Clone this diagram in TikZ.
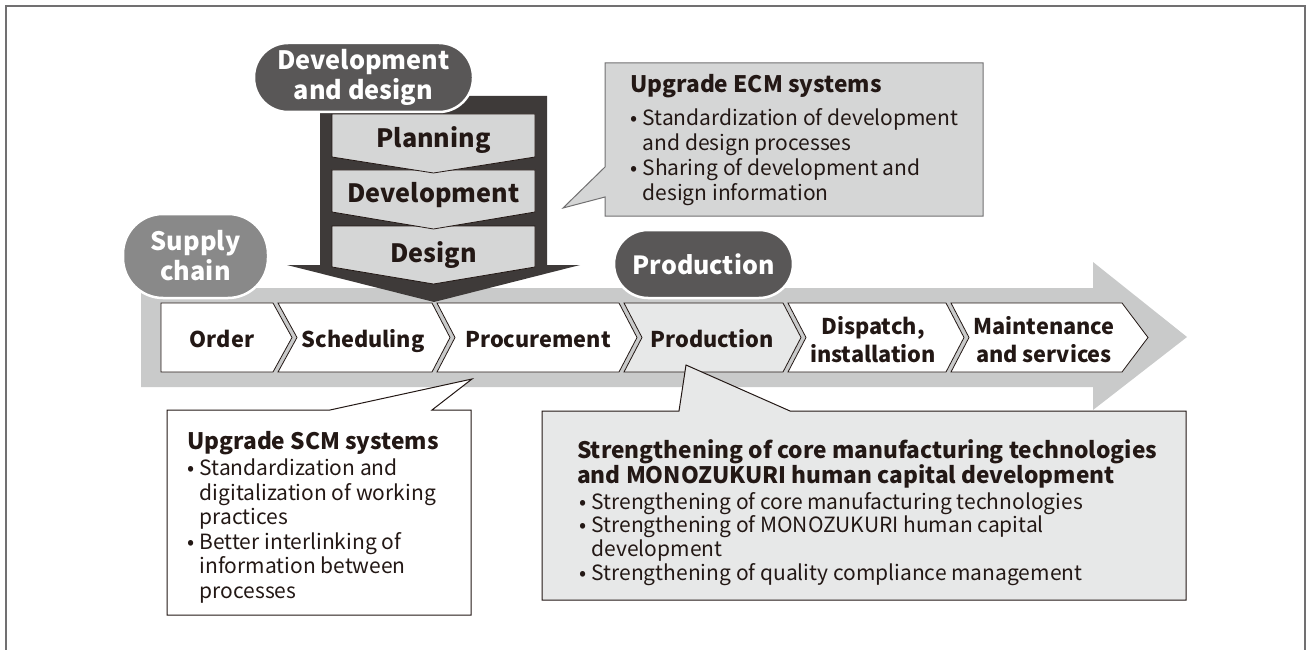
\documentclass[tikz,border=0pt]{standalone}
\usepackage{fontspec}
\setmainfont{Noto Sans CJK JP}
\definecolor{inkblack}{HTML}{231815}
\definecolor{framegray}{HTML}{717071}
\definecolor{pilldark}{HTML}{595757}
\definecolor{pillmid}{HTML}{898989}
\definecolor{arrowdark}{HTML}{3E3A39}
\definecolor{flowgray}{HTML}{C9CACA}
\definecolor{boxgray}{HTML}{D5D6D6}
\definecolor{boxlight}{HTML}{E7E8E8}
\newcommand{\itm}{\makebox[12.5pt][l]{•}}
\newcommand{\contline}{\hspace*{12.5pt}}

\begin{document}
\begin{tikzpicture}[x=1pt, y=-1pt,
  pill/.style={draw=white, line width=2.5pt, text=white, align=center, inner sep=0pt,
    font=\bfseries\fontsize{25.3}{30}\selectfont},
  stage/.style={draw=inkblack, line width=0.8pt},
  stagetext/.style={text=inkblack, align=center, inner sep=0pt,
    font=\bfseries\fontsize{21.7}{28}\selectfont},
  coltext/.style={text=inkblack, inner sep=0pt, anchor=base,
    font=\bfseries\fontsize{25.2}{28}\selectfont},
  note/.style={draw=inkblack, line width=1pt},
  notehead/.style={text=inkblack, anchor=north west, inner sep=0pt, align=left,
    font=\bfseries\fontsize{22.7}{25}\selectfont},
  notebody/.style={text=inkblack, anchor=north west, inner sep=0pt, align=left,
    font=\fontsize{21}{24.5}\selectfont}]

\useasboundingbox (0,0) rectangle (1307,650);
\draw[framegray, line width=1.2pt] (6,660) -- (6,6) -- (1305,6) -- (1305,660);

% supply chain flow
\fill[flowgray] (141,288) -- (1093,288) -- (1093,262) -- (1187,337) -- (1093,410) -- (1093,387) -- (141,387) -- cycle;

\draw[stage, fill=white] (161,303) -- (273,303) -- (292,337.5) -- (273,372) -- (161,372) -- cycle;
\node[stagetext, anchor=base] (order) at (222,347.5) {Order};

\draw[stage, fill=white] (278,303) -- (432,303) -- (450,337.5) -- (432,372) -- (278,372) -- (297,337.5) -- cycle;
\node[stagetext, anchor=base] (scheduling) at (363,347.5) {Scheduling};

\draw[stage, fill=white] (437,303) -- (619,303) -- (637,337.5) -- (619,372) -- (437,372) -- (455,337.5) -- cycle;
\node[stagetext, anchor=base] (procurement) at (538,347.5) {Procurement};

\draw[stage, fill=boxlight] (624,303) -- (783,303) -- (801,337.5) -- (783,372) -- (624,372) -- (642,337.5) -- cycle;
\node[stagetext, anchor=base] (production) at (712,347.5) {Production};

\draw[stage, fill=white] (788,303) -- (946,303) -- (964,337.5) -- (946,372) -- (788,372) -- (806,337.5) -- cycle;
\node[stagetext] (dispatch) at (873,340) {Dispatch,\\installation};

\draw[stage, fill=white] (951,303) -- (1122,303) -- (1148,337.5) -- (1122,372) -- (951,372) -- (969,337.5) -- cycle;
\node[stagetext] (maintenance) at (1044,340) {Maintenance\\and services};

% development and design column
\fill[arrowdark] (320,96) -- (547,96) -- (547,265) -- (580,265) -- (434,302) -- (287,265) -- (320,265) -- cycle;

\draw[stage, fill=boxgray] (332,226) -- (535,226) -- (535,267) -- (433.5,284) -- (332,267) -- cycle;
\node[coltext] (design) at (433.5,262) {Design};

\draw[stage, fill=boxgray] (332,170) -- (535,170) -- (535,212) -- (433.5,229) -- (332,212) -- cycle;
\node[coltext] (development) at (433.5,203) {Development};

\draw[stage, fill=boxgray] (332,114) -- (535,114) -- (535,157) -- (433.5,173) -- (332,157) -- cycle;
\node[coltext] (planning) at (433.5,148) {Planning};

% pills
\node[pill, fill=pilldark, minimum width=219pt, minimum height=69pt, rounded corners=34pt] (devpill) at (363.5,77.5) {Development\\and design};
\node[pill, fill=pillmid, minimum width=145pt, minimum height=84pt, rounded corners=40pt] (supplypill) at (195.5,256) {Supply\\chain};
\node[pill, fill=pilldark, minimum width=179pt, minimum height=68pt, rounded corners=34pt,
  font=\bfseries\fontsize{25}{30}\selectfont] (prodpill) at (703.5,264) {Production};

% ECM callout
\coordinate (ecmtip) at (563,208);
\draw[draw=framegray, line width=1pt, fill=boxgray] (605,63) -- (983,63) -- (983,216) -- (605,216) -- (605,197) -- (ecmtip) -- (605,167) -- cycle;
\node[notehead] (ecmhead) at (630,74) {Upgrade ECM systems};
\node[notebody, font=\fontsize{21}{25}\selectfont] (ecmbody) at (630,108) {\itm Standardization of development\\
  \contline and design processes\\
  \itm Sharing of development and\\
  \contline design information};

% SCM callout
\coordinate (scmtip) at (472,379);
\draw[note, fill=white] (167,410) -- (330,410) -- (scmtip) -- (432,410) -- (471,410) -- (471,615) -- (167,615) -- cycle;
\node[notehead] (scmhead) at (187,431) {Upgrade SCM systems};
\node[notebody] (scmbody) at (187,459) {\itm Standardization and\\
  \contline digitalization of working\\
  \contline practices\\
  \itm Better interlinking of\\
  \contline information between\\
  \contline processes};

% production callout
\coordinate (coretip) at (686,365);
\draw[note, fill=boxlight] (542,411) -- (679,411) -- (coretip) -- (790,411) -- (1186,411) -- (1186,600) -- (542,600) -- cycle;
\node[notehead] (corehead) at (577,439) {Strengthening of core manufacturing technologies\\
  and MONOZUKURI human capital development};
\node[notebody, font=\fontsize{21}{23.7}\selectfont] (corebody) at (579,492) {\itm Strengthening of core manufacturing technologies\\
  \itm Strengthening of MONOZUKURI human capital\\
  \contline development\\
  \itm Strengthening of quality compliance management};

\end{tikzpicture}
\end{document}
